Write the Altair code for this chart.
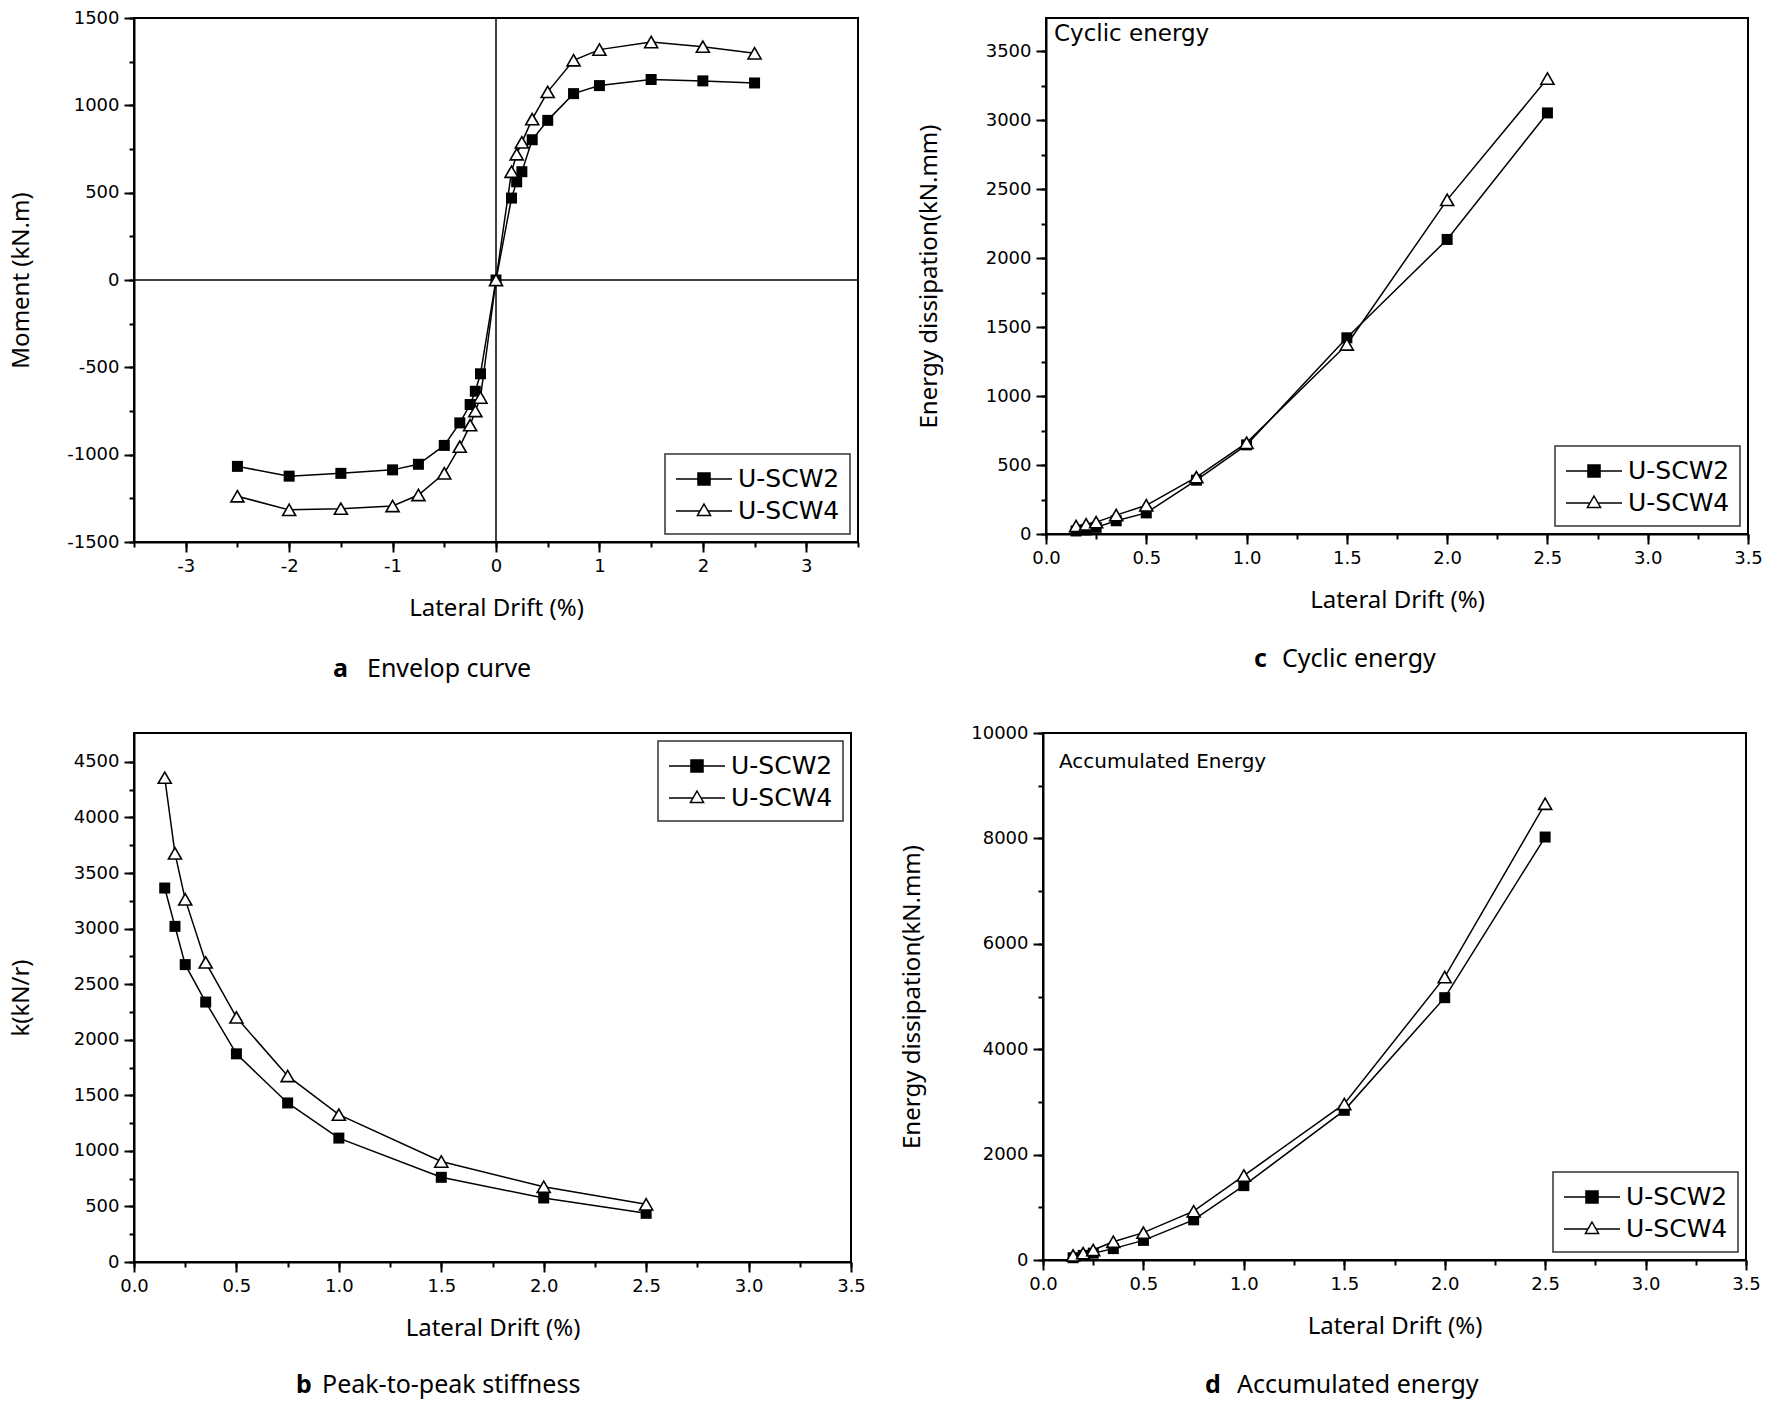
import altair as alt
import pandas as pd

SERIES = ["U-SCW2", "U-SCW4"]

# ---- panel a : envelope curve ----
a_drift = [-2.5, -2, -1.5, -1, -0.75, -0.5, -0.35, -0.25, -0.2, -0.15, 0,
           0.15, 0.2, 0.25, 0.35, 0.5, 0.75, 1, 1.5, 2, 2.5]
a_scw2 = [-1067, -1123, -1107, -1087, -1055, -947, -818, -713, -637, -537, 0,
          469, 562, 620, 803, 914, 1067, 1113, 1148, 1140, 1128]
a_scw4 = [-1238, -1316, -1309, -1294, -1231, -1107, -954, -831, -750, -673, 0,
          620, 720, 788, 921, 1077, 1258, 1319, 1362, 1336, 1298]

# ---- panels b, c, d ----
drift = [0.15, 0.2, 0.25, 0.35, 0.5, 0.75, 1.0, 1.5, 2.0, 2.5]
b_scw2 = [3365, 3020, 2676, 2339, 1873, 1431, 1115, 762, 576, 438]
b_scw4 = [4358, 3677, 3263, 2696, 2201, 1674, 1326, 904, 677, 519]
c_scw2 = [22, 29, 48, 96, 153, 390, 646, 1422, 2135, 3052]
c_scw4 = [58, 70, 86, 137, 208, 412, 661, 1374, 2422, 3301]
d_scw2 = [43, 87, 130, 216, 372, 762, 1411, 2840, 4978, 8026]
d_scw4 = [87, 130, 190, 346, 519, 926, 1602, 2961, 5368, 8658]

X_TITLE = "Lateral Drift (%)"

# legend symbols: line - marker - line
SQ_PATH = "M-1,0H0.57M1.43,0H3M0.57,-0.43H1.43V0.43H0.57Z"
TRI_PATH = "M-1,0H0.71M1.29,0H3M1,-0.5L1.47,0.32L0.53,0.32Z"

TICK_FONT = "DejaVu Sans"
TITLE_FONT = "Noto Sans"


def frame(x, s2, s4):
    return pd.DataFrame({
        "x": list(x) + list(x),
        "y": list(s2) + list(s4),
        "s": [SERIES[0]] * len(x) + [SERIES[1]] * len(x),
    })


def frange(a, b, step):
    out = []
    v = a
    while v <= b + 1e-9:
        out.append(round(v, 6))
        v += step
    return out


def panel(df, xdom, ydom, xmaj, xmin, ymaj, ymin, xfmt, ytitle, w, h, ytp,
          legend_orient, letter, caption, cap_x1, cap_x2, cap_y,
          inset=None, zero_lines=False):
    xs = alt.Scale(domain=xdom, nice=False, zero=False)
    ys = alt.Scale(domain=ydom, nice=False, zero=False)
    base = alt.Chart(df)

    xkw = dict(values=xmaj, orient="bottom", title=X_TITLE,
               tickSize=10, labelPadding=5, titlePadding=21,
               labelFlush=False, labelOverlap=False, grid=False)
    if xfmt is None:
        xkw["labelExpr"] = "'' + datum.value"
    else:
        xkw["format"] = xfmt
    ax_x = alt.Axis(**xkw)
    ax_y = alt.Axis(values=ymaj, labelExpr="'' + datum.value", orient="left", title=ytitle,
                    tickSize=10, labelPadding=5, titlePadding=ytp,
                    labelFlush=False, labelOverlap=False, grid=False)
    mx = alt.Axis(values=xmin, orient="bottom", labels=False, domain=False,
                  title=None, tickSize=5, grid=False)
    my = alt.Axis(values=ymin, orient="left", labels=False, domain=False,
                  title=None, tickSize=5, grid=False)

    line = base.mark_line(color="black", strokeWidth=1.5).encode(
        x=alt.X("x:Q", scale=xs, axis=ax_x),
        y=alt.Y("y:Q", scale=ys, axis=ax_y),
        detail="s:N",
        order="x:Q",
    )
    minor = base.mark_point(opacity=0).encode(
        x=alt.X("x:Q", scale=xs, axis=mx),
        y=alt.Y("y:Q", scale=ys, axis=my),
    )
    squares = base.transform_filter(alt.datum.s == SERIES[0]).mark_point(
        shape="square", filled=True, color="black", size=121, opacity=1
    ).encode(
        x=alt.X("x:Q", scale=xs, axis=None),
        y=alt.Y("y:Q", scale=ys, axis=None),
    )
    tris = base.transform_filter(alt.datum.s == SERIES[1]).mark_point(
        shape="triangle-up", fill="white", stroke="black", strokeWidth=1.6,
        size=170, opacity=1, filled=False
    ).encode(
        x=alt.X("x:Q", scale=xs, axis=None),
        y=alt.Y("y:Q", scale=ys, axis=None),
    )
    leg = alt.Legend(title=None, orient=legend_orient, offset=8,
                     strokeColor="#333333", fillColor="white", padding=10,
                     symbolSize=784, symbolStrokeWidth=1.5,
                     symbolStrokeColor="black", symbolOpacity=1,
                     labelFont=TICK_FONT, labelFontSize=25, labelColor="black",
                     labelOffset=33, rowPadding=4)
    legend_layer = base.transform_filter("false").mark_point(
        strokeWidth=1.5, opacity=1
    ).encode(
        shape=alt.Shape("s:N", scale=alt.Scale(domain=SERIES, range=[SQ_PATH, TRI_PATH]), legend=leg),
        fill=alt.Fill("s:N", scale=alt.Scale(domain=SERIES, range=["black", "white"]), legend=leg),
        stroke=alt.Stroke("s:N", scale=alt.Scale(domain=SERIES, range=["black", "black"]), legend=leg),
    )

    layers = []
    if zero_lines:
        zdf = pd.DataFrame({"v": [0]})
        layers.append(alt.Chart(zdf).mark_rule(color="black", strokeWidth=1.5).encode(
            x=alt.X("v:Q", scale=xs, axis=None)))
        layers.append(alt.Chart(zdf).mark_rule(color="black", strokeWidth=1.5).encode(
            y=alt.Y("v:Q", scale=ys, axis=None)))
    layers += [line, minor, squares, tris, legend_layer]

    tdf1 = pd.DataFrame({"t": [letter]})
    tdf2 = pd.DataFrame({"t": [caption]})
    layers.append(alt.Chart(tdf1).mark_text(
        font=TITLE_FONT, fontSize=25, fontWeight="bold", align="left",
        baseline="middle", color="black"
    ).encode(x=alt.value(cap_x1), y=alt.value(cap_y), text="t:N"))
    layers.append(alt.Chart(tdf2).mark_text(
        font=TITLE_FONT, fontSize=25, align="left", baseline="middle", color="black"
    ).encode(x=alt.value(cap_x2), y=alt.value(cap_y), text="t:N"))
    if inset is not None:
        itext, ix, iy, ifs = inset
        layers.append(alt.Chart(pd.DataFrame({"t": [itext]})).mark_text(
            font=TICK_FONT, fontSize=ifs, align="left", baseline="middle", color="black"
        ).encode(x=alt.value(ix), y=alt.value(iy), text="t:N"))

    return alt.layer(*layers).resolve_axis(x="independent", y="independent").properties(
        width=w, height=h)


pa = panel(frame(a_drift, a_scw2, a_scw4), [-3.5, 3.5], [-1500, 1500],
           [-3, -2, -1, 0, 1, 2, 3], frange(-3.5, 3.5, 0.5),
           frange(-1500, 1500, 500), frange(-1500, 1500, 250), None,
           "Moment (kN.m)", 724, 524, 33, "bottom-right",
           "a", "Envelop curve", 199, 233, 651, zero_lines=True)

pc = panel(frame(drift, c_scw2, c_scw4), [0, 3.5], [0, 3740],
           frange(0, 3.5, 0.5), frange(0, 3.5, 0.25),
           frange(0, 3500, 500), frange(0, 3500, 250), ".1f",
           "Energy dissipation(kN.mm)", 702, 516, 44, "bottom-right",
           "c", "Cyclic energy", 208, 236, 641, inset=("Cyclic energy", 8, 16, 23))

pb = panel(frame(drift, b_scw2, b_scw4), [0, 3.5], [0, 4760],
           frange(0, 3.5, 0.5), frange(0, 3.5, 0.25),
           frange(0, 4500, 500), frange(0, 4500, 250), ".1f",
           "k(kN/r)", 717, 529, 40, "top-right",
           "b", "Peak-to-peak stiffness", 162, 188, 652)

pd_ = panel(frame(drift, d_scw2, d_scw4), [0, 3.5], [0, 10000],
            frange(0, 3.5, 0.5), frange(0, 3.5, 0.25),
            frange(0, 10000, 2000), frange(0, 10000, 1000), ".1f",
            "Energy dissipation(kN.mm)", 703, 527, 46, "bottom-right",
            "d", "Accumulated energy", 162, 194, 652,
            inset=("Accumulated Energy", 16, 29, 20))

row1 = alt.hconcat(pa, pc, spacing=56).resolve_scale(
    shape="independent", fill="independent", stroke="independent").resolve_legend(
    shape="independent", fill="independent", stroke="independent")
row2 = alt.hconcat(pb, pd_, spacing=32).resolve_scale(
    shape="independent", fill="independent", stroke="independent").resolve_legend(
    shape="independent", fill="independent", stroke="independent")

chart = alt.vconcat(
    row1, row2, spacing=40,
    padding={"top": 0, "left": 0, "right": 0, "bottom": 0},
).resolve_scale(
    shape="independent", fill="independent", stroke="independent").resolve_legend(
    shape="independent", fill="independent", stroke="independent"
).configure(
    background="white"
).configure_view(
    stroke="black", strokeWidth=2
).configure_axis(
    domainColor="black", domainWidth=2, tickColor="black", tickWidth=2,
    labelColor="black", titleColor="black", labelFont=TICK_FONT, labelFontSize=18,
    titleFont=TITLE_FONT, titleFontSize=24, titleFontWeight="normal", grid=False
).configure_legend(
    strokeWidth=1.5
)

chart.save("out.html", embed_options={"renderer": "svg", "actions": False})
